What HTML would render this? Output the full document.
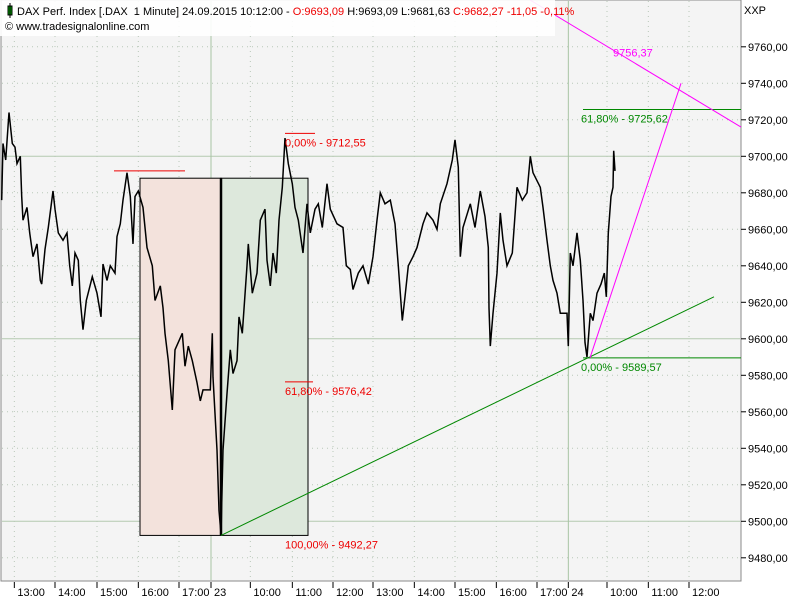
<!DOCTYPE html>
<html><head><meta charset="utf-8">
<style>
body{margin:0;background:#fff;width:800px;height:600px;overflow:hidden;font-family:"Liberation Sans",sans-serif}
svg{display:block}
text{font-family:"Liberation Sans",sans-serif;font-size:11px}
</style></head>
<body>
<svg id="chart" width="800" height="600">
<rect x="0" y="0" width="800" height="600" fill="#ffffff"/>
<rect x="1" y="0" width="740" height="581" fill="#f4f4f4" stroke="#8a8a8a"/>
<g id="grid"></g>
<g id="draw"></g>
<g id="yaxis"></g>
<g id="xaxis"></g>
<g>
<rect x="0" y="0" width="555" height="36" fill="#fff" opacity="0.9"/>
<rect x="8" y="6" width="4" height="9" fill="#0a0" stroke="#000" stroke-width="1"/>
<line x1="10" y1="3" x2="10" y2="18" stroke="#000"/>
<text x="17" y="15" fill="#000" xml:space="preserve">DAX Perf. Index [.DAX  1 Minute] 24.09.2015 10:12:00 - <tspan fill="#e00">O:9693,09</tspan> H:9693,09 L:9681,63 <tspan fill="#e00">C:9682,27 -11,05 -0,11%</tspan></text>
<text x="5" y="30" fill="#000">© www.tradesignalonline.com</text>
</g>
<text x="744" y="14" fill="#000">XXP</text>
</svg>
<script>
const prices=[9676,9707,9698,9724,9707,9705,9696,9700,9678,9665,9672,9658,9645,9652,9632,9630,9649,9661,9681,9671,9658,9654,9658,9640,9629,9647,9643,9621,9605,9621,9634,9625,9612,9641,9632,9640,9636,9656,9663,9676,9691,9678,9652,9678,9681,9672,9650,9640,9621,9629,9617,9603,9588,9561,9594,9603,9585,9596,9588,9576,9566,9572,9572,9603,9579,9539,9506,9493,9539,9570,9594,9581,9588,9612,9603,9640,9652,9625,9636,9665,9671,9643,9629,9647,9636,9665,9683,9710,9696,9685,9672,9665,9647,9674,9658,9671,9674,9661,9685,9671,9663,9661,9640,9638,9627,9636,9640,9630,9645,9665,9680,9674,9676,9663,9640,9610,9623,9640,9645,9650,9663,9669,9665,9660,9674,9685,9698,9709,9694,9645,9661,9674,9661,9681,9667,9650,9617,9596,9614,9636,9669,9654,9640,9647,9683,9676,9680,9700,9691,9683,9672,9654,9640,9632,9625,9614,9614,9596,9647,9640,9658,9643,9621,9598,9590,9614,9610,9625,9630,9636,9623,9658,9678,9683,9703,9692];
const minutes=[-20,-18,-14,-9,-4,0,3,8,10,12,18,22,27,33,38,40,45,50,57,60,65,72,78,82,86,90,95,98,102,107,116,123,129,132,138,143,150,153,158,162,168,173,177,180,185,192,198,206,210,218,222,225,230,236,240,251,255,260,266,273,278,282,293,296,297,303,306,309,312,318,323,327,333,336,341,348,350,356,363,368,375,378,383,387,392,396,401,405,410,416,420,425,432,438,443,450,455,461,468,473,483,492,497,503,507,515,522,530,537,543,548,555,563,570,575,581,585,590,597,603,612,618,627,633,638,648,656,660,665,668,672,683,690,698,705,710,711,713,717,723,728,732,738,746,753,761,768,773,777,788,792,798,803,807,813,818,828,830,833,837,843,848,852,855,858,863,867,873,879,884,887,890,894,897,898,900];
const yTicks=[9480,9500,9520,9540,9560,9580,9600,9620,9640,9660,9680,9700,9720,9740,9760];
const xTickMinutes=[-1,60,123,185,246,294,353,416,477,537,599,660,722,783,830,888,950,1011];
const xTickLabels=["13:00","14:00","15:00","16:00","17:00","23","10:00","11:00","12:00","13:00","14:00","15:00","16:00","17:00","24","10:00","11:00","12:00"];
const fib1=[9712.55,9576.42,9492.27];
const fib2=[9589.57,9725.62];
const magentaLevel=9756.37;

const NS="http://www.w3.org/2000/svg";
const X=m=>15+m/1.5;
const Y=v=>156.3+(9700-v)*1.825;
function mk(parent,tag,attrs,txt){const e=document.createElementNS(NS,tag);for(const k in attrs)e.setAttribute(k,attrs[k]);if(txt!==undefined)e.textContent=txt;parent.appendChild(e);return e;}
const grid=document.getElementById('grid'),draw=document.getElementById('draw'),ya=document.getElementById('yaxis'),xa=document.getElementById('xaxis');

yTicks.forEach(v=>{
 const solid=(v%100===0);
 const l=mk(grid,'line',{x1:2,x2:740,y1:Y(v),y2:Y(v),stroke:solid?'#b3c9b0':'#b8c8b8','stroke-dasharray':solid?'':'1,4','stroke-width':1});
 
 
 const t=mk(ya,'line',{x1:741,x2:746,y1:Y(v),y2:Y(v),stroke:'#000'});
 
 
 const tx=mk(ya,'text',{x:748,y:Y(v)+4,fill:'#000'},v.toFixed(2).replace('.',','));
 
 
});
xTickMinutes.forEach((m,i)=>{
 const day=(xTickLabels[i]==='23'||xTickLabels[i]==='24');
 const g=mk(grid,'line',{x1:X(m),x2:X(m),y1:1,y2:580,stroke:day?'#a8c4a4':'#b8c8b8','stroke-dasharray':day?'':'1,4'});
 
 
 const t=mk(xa,'line',{x1:X(m),x2:X(m),y1:582,y2:588,stroke:'#000'});
 
 
 const tx=mk(xa,'text',{x:X(m)+3,y:596,fill:'#000'},xTickLabels[i]);
 
 
});

const bx0=140,bx1=221,bx2=308;
const r1=mk(draw,'rect',{x:bx0,y:Y(9688),width:bx1-bx0,height:Y(fib1[2])-Y(9688),fill:'#f3e2dc',stroke:'#000'});


const r2=mk(draw,'rect',{x:bx1,y:Y(9688),width:bx2-bx1,height:Y(fib1[2])-Y(9688),fill:'#dde8dc',stroke:'#000'});


const vb=mk(draw,'line',{x1:bx1,x2:bx1,y1:Y(9688),y2:Y(fib1[2]),stroke:'#000','stroke-width':2.5});



const n=Math.min(prices.length,minutes.length);
const pts=[];
for(let i=0;i<n;i++)pts.push(X(minutes[i]).toFixed(1)+','+Y(prices[i]).toFixed(1));
const pl=mk(draw,'polyline',{points:pts.join(' '),fill:'none',stroke:'#000','stroke-width':1.5});



const rl=mk(draw,'line',{x1:114,x2:185,y1:Y(9692),y2:Y(9692),stroke:'#e00','stroke-width':1});


const fl=[[fib1[0],'0,00% - 9712,55',285,315],[fib1[1],'61,80% - 9576,42',285,313],[fib1[2],'100,00% - 9492,27',285,310]];
fl.forEach((f,i)=>{
 if(i<2){const l=mk(draw,'line',{x1:f[2],x2:f[3],y1:Y(f[0]),y2:Y(f[0]),stroke:'#e00'});
 
 }
 const t=mk(draw,'text',{x:f[2],y:Y(f[0])+13,fill:'#e00'},f[1]);
 
 
});

const gt=mk(draw,'line',{x1:221,y1:Y(fib1[2]),x2:714,y2:Y(9623),stroke:'#080','stroke-width':1});


[[fib2[0],'0,00% - 9589,57'],[fib2[1],'61,80% - 9725,62']].forEach(f=>{
 const l=mk(draw,'line',{x1:583,x2:741,y1:Y(f[0]),y2:Y(f[0]),stroke:'#080'});
 
 
 const t=mk(draw,'text',{x:581,y:Y(f[0])+13,fill:'#080'},f[1]);
 
 
});

const m1=mk(draw,'line',{x1:590,y1:Y(fib2[0]),x2:681,y2:Y(9740),stroke:'#f0f','stroke-width':1});


const m2=mk(draw,'line',{x1:530,y1:0,x2:741,y2:Y(9716),stroke:'#f0f','stroke-width':1});


const mt=mk(draw,'text',{x:613,y:Y(magentaLevel)+3,fill:'#f0f'},magentaLevel.toFixed(2).replace('.',','));


</script>
</body></html>
